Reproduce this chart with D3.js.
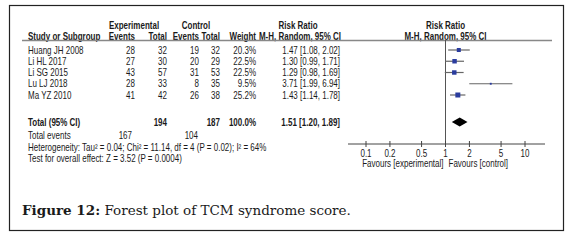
<!DOCTYPE html>
<html>
<head>
<meta charset="utf-8">
<script src="https://cdn.jsdelivr.net/npm/d3@7"></script>
<style>
  body { margin: 0; background: #fff; }
  svg { display: block; }
  text { font-family: "Liberation Sans", Arial, sans-serif; fill: #1a1a1a; }
</style>
</head>
<body>
<div id="chart"></div>
<script>
const studies = ['Huang JH 2008', 'Li HL 2017', 'Li SG 2015', 'Lu LJ 2018', 'Ma YZ 2010'];
const expEvents = [28, 27, 43, 28, 41];
const expTotal = [32, 30, 57, 33, 42];
const ctrlEvents = [19, 20, 31, 8, 26];
const ctrlTotal = [32, 29, 53, 35, 38];
const weights = [20.3, 22.5, 22.5, 9.5, 25.2];
const rr = [1.47, 1.30, 1.29, 3.71, 1.43];
const rrLow = [1.08, 0.99, 0.98, 1.99, 1.14];
const rrHigh = [2.02, 1.71, 1.69, 6.94, 1.78];
const pooled = [1.51, 1.20, 1.89];
const totals = [194, 187];
const totalEvents = [167, 104];
const axisTicks = [0.1, 0.2, 0.5, 1, 2, 5, 10];

const width = 572, height = 240;
const fs = 10;
const squeeze = 0.8; // RevMan text is condensed

const svg = d3.select('#chart').append('svg')
    .attr('width', width)
    .attr('height', height);

// outer frame
svg.append('rect')
    .attr('x', 9.5).attr('y', 5.5)
    .attr('width', 554).attr('height', 225)
    .attr('fill', 'none')
    .attr('stroke', '#222')
    .attr('stroke-width', 1.2);

const x = d3.scaleLog().domain([0.1, 10]).range([366, 525]);
const y = d3.scaleLinear().domain([0, 4]).range([50, 95]);
const side = d3.scaleLinear().domain([0, 25.2]).range([0, 5]);
const fmt = d3.format('.2f');

// column anchors (right aligned numbers)
const cols = { study: 28, expE: 135, expT: 167, ctrlE: 199, ctrlT: 220, weight: 256, rr: 340 };

function txt(g, xPos, yPos, s, anchor, bold) {
    return g.append('text')
        .attr('transform', `translate(${xPos},${yPos}) scale(${squeeze},1)`)
        .attr('dy', '0.35em')
        .attr('text-anchor', anchor || 'start')
        .attr('font-size', fs + 'px')
        .attr('font-weight', bold ? 'bold' : 'normal')
        .text(s);
}

// headers
const head = svg.append('g');
txt(head, 134, 25, 'Experimental', 'middle', true);
txt(head, 196, 25, 'Control', 'middle', true);
txt(head, 298, 25, 'Risk Ratio', 'middle', true);
txt(head, x(1), 25, 'Risk Ratio', 'middle', true);
txt(head, cols.study, 36, 'Study or Subgroup', 'start', true);
txt(head, cols.expE, 36, 'Events', 'end', true);
txt(head, cols.expT, 36, 'Total', 'end', true);
txt(head, cols.ctrlE, 36, 'Events', 'end', true);
txt(head, cols.ctrlT, 36, 'Total', 'end', true);
txt(head, cols.weight, 36, 'Weight', 'end', true);
txt(head, 300, 36, 'M-H, Random, 95% CI', 'middle', true);
txt(head, x(1), 36, 'M-H, Random, 95% CI', 'middle', true);

svg.append('line')
    .attr('x1', 22).attr('x2', 552)
    .attr('y1', 40.5).attr('y2', 40.5)
    .attr('stroke', '#888').attr('stroke-width', 1.5);

// study rows
const rows = svg.append('g');
studies.forEach((s, i) => {
    const yy = y(i);
    txt(rows, cols.study, yy, s);
    txt(rows, cols.expE, yy, expEvents[i], 'end');
    txt(rows, cols.expT, yy, expTotal[i], 'end');
    txt(rows, cols.ctrlE, yy, ctrlEvents[i], 'end');
    txt(rows, cols.ctrlT, yy, ctrlTotal[i], 'end');
    txt(rows, cols.weight, yy, weights[i].toFixed(1) + '%', 'end');
    txt(rows, cols.rr, yy, `${fmt(rr[i])} [${fmt(rrLow[i])}, ${fmt(rrHigh[i])}]`, 'end');
});

// totals
const yTot = 122;
txt(rows, cols.study, yTot, 'Total (95% CI)', 'start', true);
txt(rows, cols.expT, yTot, totals[0], 'end', true);
txt(rows, cols.ctrlT, yTot, totals[1], 'end', true);
txt(rows, cols.weight, yTot, '100.0%', 'end', true);
txt(rows, cols.rr, yTot, `${fmt(pooled[0])} [${fmt(pooled[1])}, ${fmt(pooled[2])}]`, 'end', true);
txt(rows, cols.study, 135, 'Total events');
txt(rows, cols.expE - 3, 135, totalEvents[0], 'end');
txt(rows, cols.ctrlE - 1, 135, totalEvents[1], 'end');

txt(rows, cols.study, 147, 'Heterogeneity: Tau² = 0.04; Chi² = 11.14, df = 4 (P = 0.02); I² = 64%');
txt(rows, cols.study, 158, 'Test for overall effect: Z = 3.52 (P = 0.0004)');

// plot
const plot = svg.append('g');
const axisY = 144;

plot.append('line')
    .attr('x1', x(1)).attr('x2', x(1))
    .attr('y1', 40).attr('y2', axisY)
    .attr('stroke', '#555').attr('stroke-width', 1);

plot.selectAll('.ci').data(studies).enter().append('line')
    .attr('x1', (d, i) => x(rrLow[i]))
    .attr('x2', (d, i) => x(rrHigh[i]))
    .attr('y1', (d, i) => y(i)).attr('y2', (d, i) => y(i))
    .attr('stroke', '#666').attr('stroke-width', 1.2);

plot.selectAll('.sq').data(studies).enter().append('rect')
    .attr('x', (d, i) => x(rr[i]) - side(weights[i]) / 2)
    .attr('y', (d, i) => y(i) - side(weights[i]) / 2)
    .attr('width', (d, i) => side(weights[i]))
    .attr('height', (d, i) => side(weights[i]))
    .attr('fill', '#2a3c9e');

plot.append('path')
    .attr('d', `M${x(pooled[1])},${yTot} L${x(pooled[0])},${yTot - 4.5} L${x(pooled[2])},${yTot} L${x(pooled[0])},${yTot + 4.5} Z`)
    .attr('fill', '#000');

// axis
const axis = plot.append('g').attr('transform', `translate(0,${axisY})`);
axis.append('line')
    .attr('x1', x(0.1) - 18).attr('x2', x(10) + 20)
    .attr('stroke', '#444');
axis.selectAll('.tick').data(axisTicks).enter().append('line')
    .attr('x1', d => x(d)).attr('x2', d => x(d))
    .attr('y1', -3).attr('y2', 3)
    .attr('stroke', '#444');
axisTicks.forEach(d => txt(plot, x(d), axisY + 9, d, 'middle'));

txt(plot, x(1) - 2, 163, 'Favours [experimental]', 'end');
txt(plot, x(1) + 3, 163, 'Favours [control]', 'start');

// caption
const cap = svg.append('text')
    .attr('x', 22).attr('y', 215)
    .style('font-family', '"DejaVu Serif", "Liberation Serif", serif')
    .attr('font-size', '13.5px');
cap.append('tspan').attr('font-weight', 'bold').text('Figure 12:');
cap.append('tspan').text(' Forest plot of TCM syndrome score.');
</script>
</body>
</html>
